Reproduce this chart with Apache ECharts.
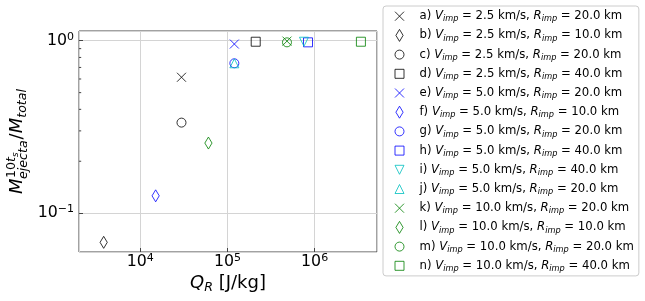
<!DOCTYPE html>
<html><head><meta charset="utf-8">
<script src="https://cdn.jsdelivr.net/npm/echarts@6/dist/echarts.min.js"></script>
<style>html,body{margin:0;padding:0;background:#fff}#c{width:645px;height:301px}</style>
</head><body><div id="c"></div>
<script>
// ---- data ----
const runLetters = ['a','b','c','d','e','f','g','h','i','j','k','l','m','n'];
const vImp = ['2.5','2.5','2.5','2.5','5.0','5.0','5.0','5.0','5.0','5.0','10.0','10.0','10.0','10.0'];
const rImp = ['20.0','10.0','20.0','40.0','20.0','10.0','20.0','40.0','40.0','20.0','20.0','10.0','20.0','40.0'];
const qR = [29700, 3800, 29700, 211000, 120000, 15000, 120000, 840000, 755000, 120000, 482000, 60500, 482000, 3400000];
const ejectaFraction = [0.614, 0.0677, 0.335, 0.987, 0.957, 0.126, 0.74, 0.979, 0.987, 0.74, 0.995, 0.255, 0.979, 0.987];
const markerShapes = ['x','thin_diamond','circle','square','x','thin_diamond','circle','square','triangle_down','triangle_up','x','thin_diamond','circle','square'];
const markerColors = ['k','k','k','k','b','b','b','b','c','c','g','g','g','g'];
const xTickValues = [1e4, 1e5, 1e6];
const yTickValues = [0.1, 1];
const yMinorTickValues = [0.2, 0.3, 0.4, 0.5, 0.6, 0.7, 0.8, 0.9];

// ---- styles ----
const FONT = 'DejaVu Sans';
const X_MIN = 1980, X_MAX = 5.2e6, Y_MIN = 0.0595, Y_MAX = 1.139;
const colorMap = {k:'#000000', b:'#0000ff', c:'#00bfbf', g:'#008000'};
const box = 'M0,0M14,14';
const pathMap = {
  x: box + 'M2.5,2.5L11.5,11.5M11.5,2.5L2.5,11.5',
  thin_diamond: box + 'M7,1L10.6,7L7,13L3.4,7Z',
  circle: box + 'M11.5,7A4.5,4.5,0,1,1,2.5,7A4.5,4.5,0,1,1,11.5,7Z',
  square: box + 'M2.5,2.5L11.5,2.5L11.5,11.5L2.5,11.5Z',
  triangle_down: box + 'M2.5,2.5L11.5,2.5L7,11.5Z',
  triangle_up: box + 'M7,2.5L11.5,11.5L2.5,11.5Z'
};

function seriesName(i){ return runLetters[i] + ') V=' + vImp[i] + ', R=' + rImp[i]; }

const series = runLetters.map((l, i) => ({
  type: 'scatter',
  name: seriesName(i),
  data: [[qR[i], ejectaFraction[i]]],
  symbol: 'path://' + pathMap[markerShapes[i]],
  symbolSize: 14,
  symbolKeepAspect: true,
  silent: true,
  itemStyle: {color: 'rgba(0,0,0,0)', borderColor: colorMap[markerColors[i]], borderWidth: 1},
  emphasis: {disabled: true},
  z: 3 + i
}));
const legendNames = series.map(s => s.name);

// minor y ticks drawn through the axis scale
series.push({
  type: 'custom', name: '_minor', silent: true, clip: false, z: 2,
  data: yMinorTickValues.map(v => [X_MIN, v]),
  renderItem: function(params, api){
    const p = api.coord([api.value(0), api.value(1)]);
    return {type: 'line', shape: {x1: p[0], y1: p[1], x2: p[0] + 2.2, y2: p[1]}, style: {stroke: '#444', lineWidth: 1}};
  }
});

function tickFmt(v){
  const lg = Math.log10(v);
  const n = Math.round(lg);
  if (Math.abs(lg - n) > 1e-6) return '';
  return '{b|10}{s|' + (n < 0 ? '\u2212' + (-n) : n) + '}';
}
const tickRich = {
  b: {fontFamily: FONT, fontSize: 15.8, lineHeight: 18, color: '#000'},
  s: {fontFamily: FONT, fontSize: 11, lineHeight: 12, verticalAlign: 'top', color: '#000'}
};

// ---- y label pieces (measured) ----
const cv = document.createElement('canvas').getContext('2d');
function tw(t, size, italic){ cv.font = (italic ? 'italic ' : '') + size + 'px "' + FONT + '"'; return cv.measureText(t).width; }
const S = 18, s1 = 12.6, s2 = 8.8, K = 0.346;
const pieces = [];
function put(t, x, base, size, italic){ pieces.push({t, x, y: base - K*size, size, italic}); return x + tw(t, size, italic); }
let xx = put('M', 0, 0, S, true);
let xs = xx + 0.5;
xs = put('10', xs, -7, s1, false);
xs = put('t', xs, -7, s1, true);
xs = put('s', xs, -4.5, s2, true);
let xe = put('ejecta', xx - 0.5, 4.5, s1, true);
xx = Math.max(xs, xe) + 1;
xx = put('/', xx, 0, S, false);
xx = put('M', xx, 0, S, true);
xx = put('total', xx, 4, s1, true);
const W = xx;

const chart = echarts.init(document.getElementById('c'), null, {renderer: 'canvas'});
chart.setOption({
  animation: false,
  backgroundColor: '#fff',
  grid: {left: 79, right: 268, top: 31, bottom: 49, show: true, borderColor: '#444', borderWidth: 1, backgroundColor: 'transparent', containLabel: false, outerBoundsMode: 'none'},
  xAxis: {
    type: 'log', logBase: 10, min: X_MIN, max: X_MAX,
    axisLine: {show: false},
    axisTick: {show: true, inside: true, length: 4, lineStyle: {color: '#444'}},
    splitLine: {show: true, lineStyle: {color: '#d4d4d4', width: 1}},
    axisLabel: {margin: 1, formatter: tickFmt, rich: tickRich, showMinLabel: false, showMaxLabel: false},
    name: '{q|Q}{r|R}{t| [J/kg]}',
    nameLocation: 'middle', nameGap: 20, nameMoveOverlap: false,
    nameTextStyle: {rich: {
      q: {fontFamily: FONT, fontSize: 18, fontStyle: 'italic', lineHeight: 22, color: '#000'},
      r: {fontFamily: FONT, fontSize: 12.6, fontStyle: 'italic', lineHeight: 13, verticalAlign: 'bottom', color: '#000'},
      t: {fontFamily: FONT, fontSize: 18, lineHeight: 22, color: '#000'}
    }}
  },
  yAxis: {
    type: 'log', logBase: 10, min: Y_MIN, max: Y_MAX,
    axisLine: {show: false},
    axisTick: {show: true, inside: true, length: 4, lineStyle: {color: '#444'}},
    splitLine: {show: true, lineStyle: {color: '#d4d4d4', width: 1}},
    axisLabel: {margin: 5, formatter: tickFmt, rich: tickRich, showMinLabel: false, showMaxLabel: false}
  },
  legend: {
    orient: 'vertical', left: 383, top: 6,
    padding: [2.7, 5, 2.6, 9],
    itemWidth: 30, itemHeight: 14, itemGap: 4.2,
    symbolKeepAspect: true,
    selectedMode: false,
    backgroundColor: '#fff', borderColor: '#cccccc', borderWidth: 1, borderRadius: 3,
    itemStyle: {borderWidth: 1},
    data: legendNames,
    formatter: function(name){
      const i = legendNames.indexOf(name);
      return '{n|' + runLetters[i] + ') }{i|V}{s|imp}{n| = ' + vImp[i] + ' km/s, }{i|R}{s|imp}{n| = ' + rImp[i] + ' km}';
    },
    textStyle: {color: '#000', fontFamily: FONT, rich: {
      n: {fontFamily: FONT, fontSize: 11.7, lineHeight: 14, color: '#000'},
      i: {fontFamily: FONT, fontSize: 11.7, fontStyle: 'italic', lineHeight: 14, color: '#000'},
      s: {fontFamily: FONT, fontSize: 8.2, fontStyle: 'italic', lineHeight: 8, verticalAlign: 'bottom', color: '#000'}
    }}
  },
  graphic: [{
    type: 'group', x: 23.5, y: 141.5 + W/2, rotation: Math.PI/2, silent: true,
    children: pieces.map(p => ({type: 'text', x: p.x, y: p.y, style: {text: p.t, fontFamily: FONT, fontSize: p.size, fontStyle: p.italic ? 'italic' : 'normal', fill: '#000', align: 'left', verticalAlign: 'middle'}}))
  }],
  series: series
});
</script></body></html>
